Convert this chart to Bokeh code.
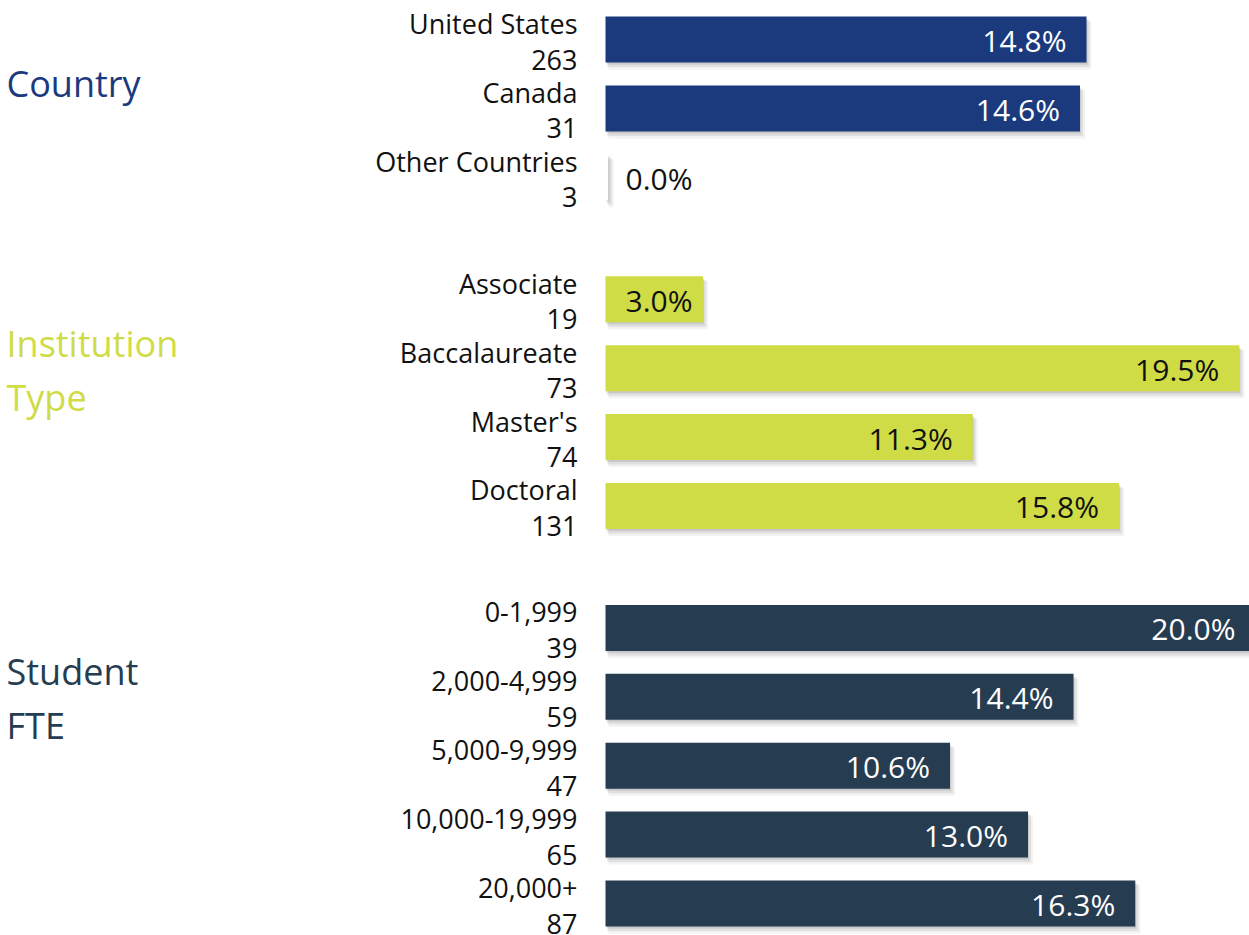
from bokeh.plotting import figure
from bokeh.models import ColumnDataSource, Range1d
from bokeh.core.properties import value
from bokeh.embed import file_html
from bokeh.resources import INLINE

# ---------------- data ----------------
groups = ["Country", "Institution Type", "Student FTE"]
group_colors = ["#1b3a7e", "#cfdc46", "#263c51"]
group_inside_text = ["#ffffff", "#111111", "#ffffff"]

country_names = ["United States", "Canada", "Other Countries"]
country_counts = [263, 31, 3]
country_pct = [14.8, 14.6, 0.0]

inst_names = ["Associate", "Baccalaureate", "Master's", "Doctoral"]
inst_counts = [19, 73, 74, 131]
inst_pct = [3.0, 19.5, 11.3, 15.8]

fte_names = ["0-1,999", "2,000-4,999", "5,000-9,999", "10,000-19,999", "20,000+"]
fte_counts = [39, 59, 47, 65, 87]
fte_pct = [20.0, 14.4, 10.6, 13.0, 16.3]

group_items = [
    (country_names, country_counts, country_pct),
    (inst_names, inst_counts, inst_pct),
    (fte_names, fte_counts, fte_pct),
]

# ---------------- layout ----------------
W, H = 1249, 935
PX_PER_PCT = 32.5
PX_PER_SLOT = 68.9
ZERO_PX = 605          # frame px of the 0 % baseline
GAP = 0.77             # extra slots between groups
BAR_H = 46 / PX_PER_SLOT

rows = dict(slot=[], name=[], count=[], pct=[], color=[], gi=[])
group_first_slot = []
slot = 0.0
for gi, (names, counts, pcts) in enumerate(group_items):
    if gi > 0:
        slot += GAP
    group_first_slot.append(slot)
    for n, c, v in zip(names, counts, pcts):
        rows["slot"].append(slot)
        rows["name"].append(n)
        rows["count"].append(str(c))
        rows["pct"].append(v)
        rows["color"].append(group_colors[gi])
        rows["gi"].append(gi)
        slot += 1

y_top = -39 / PX_PER_SLOT
y_bottom = y_top + H / PX_PER_SLOT
x_left = -ZERO_PX / PX_PER_PCT
x_right = (W - ZERO_PX) / PX_PER_PCT

p = figure(width=W, height=H, output_backend="svg", toolbar_location=None,
           x_range=Range1d(x_left, x_right), y_range=Range1d(y_bottom, y_top),
           min_border=0, outline_line_color=None, background_fill_color="white",
           border_fill_color="white")
p.axis.visible = False
p.xgrid.visible = False
p.ygrid.visible = False

# shadows
for dx, dy, grow, alpha in [(3, 6, 2, 0.05), (2, 4, 1, 0.08), (1, 2, 0, 0.10)]:
    sh = ColumnDataSource(dict(
        y=[s + dy / PX_PER_SLOT for s in rows["slot"]],
        left=[dx / PX_PER_PCT for _ in rows["pct"]],
        right=[max(v, 0.1) + (dx + grow) / PX_PER_PCT for v in rows["pct"]],
    ))
    p.hbar(y="y", left="left", right="right", height=BAR_H + grow / PX_PER_SLOT,
           source=sh, fill_color="#000000", fill_alpha=alpha, line_color=None)

src = ColumnDataSource(dict(
    y=rows["slot"], right=[max(v, 0.08) for v in rows["pct"]],
    color=[c if v > 0 else "#ffffff" for c, v in zip(rows["color"], rows["pct"])],
    name=rows["name"], count=rows["count"],
))
p.hbar(y="y", left=0, right="right", height=BAR_H, source=src,
       fill_color="color", line_color=None)

FONT = value("Open Sans")
# category labels (name line + count line), right aligned left of the bars
p.text(x=0, y="y", text="name", source=src, x_offset=-28, y_offset=-16,
       text_align="right", text_baseline="alphabetic", text_font=FONT,
       text_font_size="27px", text_color="#111111")
p.text(x=0, y="y", text="count", source=src, x_offset=-28, y_offset=20,
       text_align="right", text_baseline="alphabetic", text_font=FONT,
       text_font_size="27px", text_color="#111111")

# value labels
ins = dict(x=[], y=[], t=[], c=[])
out = dict(x=[], y=[], t=[], c=[])
for s, v, gi in zip(rows["slot"], rows["pct"], rows["gi"]):
    lab = f"{v:.1f}%"
    if v >= 4:
        ins["x"].append(v); ins["y"].append(s); ins["t"].append(lab)
        ins["c"].append(group_inside_text[gi])
    else:
        out["x"].append(0); out["y"].append(s); out["t"].append(lab)
        out["c"].append(group_inside_text[gi] if v > 0 else "#111111")
p.text(x="x", y="y", text="t", source=ColumnDataSource(ins), x_offset=-20, y_offset=1,
       text_align="right", text_baseline="alphabetic", text_font=FONT,
       text_font_size="30px", text_color="c")
p.text(x="x", y="y", text="t", source=ColumnDataSource(out), x_offset=20, y_offset=1,
       text_align="left", text_baseline="alphabetic", text_font=FONT,
       text_font_size="30px", text_color="c")

# group titles
gl = dict(x=[], y=[], t=[], c=[], off=[])
for gi, g in enumerate(groups):
    for k, line in enumerate(g.split(" ")):
        gl["x"].append(x_left); gl["y"].append(group_first_slot[gi])
        gl["t"].append(line); gl["c"].append(group_colors[gi])
        gl["off"].append(44 + 54 * k)
p.text(x="x", y="y", text="t", source=ColumnDataSource(gl), y_offset="off",
       x_offset=6, text_align="left", text_baseline="alphabetic", text_font=FONT,
       text_font_size="36px", text_color="c")

open("out.html", "w").write(file_html(p, INLINE))
